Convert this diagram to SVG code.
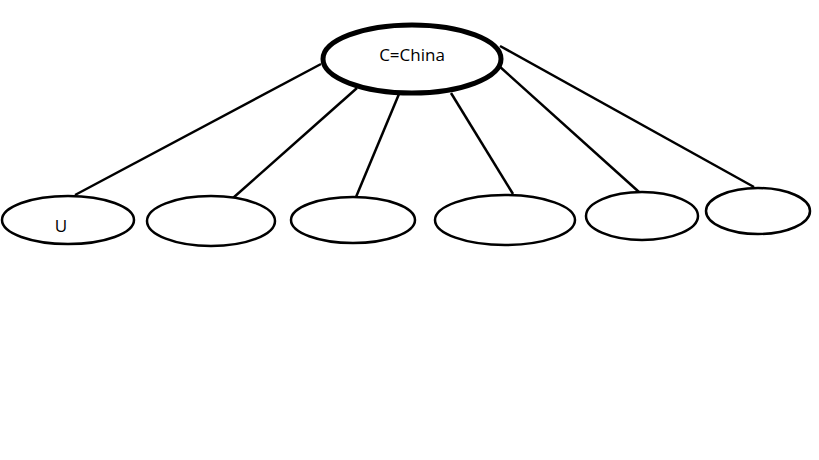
<svg xmlns="http://www.w3.org/2000/svg" width="819" height="460" viewBox="0 0 819 460">
<style>
.n{fill:#fff;stroke:#000;stroke-width:2.5}
.root{fill:#fff;stroke:#000;stroke-width:5}
.c line{stroke:#000;stroke-width:2.5}
text{font-family:"Open Sans","Noto Sans",sans-serif;font-size:17px;fill:#000;text-anchor:middle}
</style>
<rect width="819" height="460" fill="#fff"/>
<g id="connectors" class="c">
<line x1="321" y1="64" x2="75" y2="195"/>
<line x1="357" y1="88" x2="233" y2="198"/>
<line x1="399" y1="94" x2="356" y2="197"/>
<line x1="451" y1="93" x2="513" y2="194"/>
<line x1="499" y1="66" x2="639" y2="192"/>
<line x1="500" y1="46" x2="754" y2="187"/>
</g>
<g id="china"><ellipse class="root" cx="412" cy="59" rx="89" ry="34"/><text x="412" y="61">C=China</text></g>
<g id="u"><ellipse class="n" cx="68" cy="220" rx="66" ry="24"/><text x="61" y="232">U</text></g>
<g id="n2"><ellipse class="n" cx="211" cy="221" rx="64" ry="25"/></g>
<g id="n3"><ellipse class="n" cx="353" cy="220" rx="62" ry="23"/></g>
<g id="n4"><ellipse class="n" cx="505" cy="220" rx="70" ry="25"/></g>
<g id="n5"><ellipse class="n" cx="642" cy="216" rx="56" ry="24"/></g>
<g id="n6"><ellipse class="n" cx="758" cy="211" rx="52" ry="23"/></g>
</svg>
